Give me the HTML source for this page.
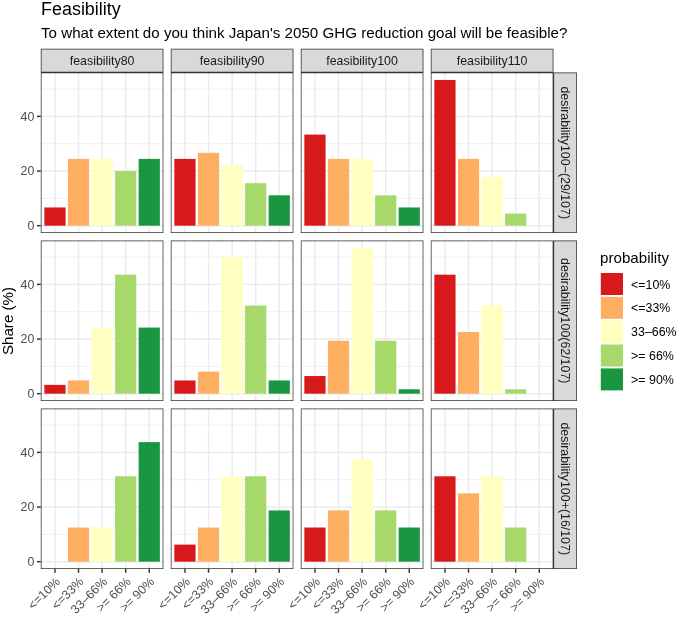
<!DOCTYPE html><html><head><meta charset="utf-8"><style>html,body{margin:0;padding:0;background:#fff;}svg{display:block;will-change:transform;}text{font-family:"Liberation Sans",sans-serif;}</style></head><body>
<svg width="685" height="619" viewBox="0 0 685 619">
<rect x="0" y="0" width="685" height="619" fill="#fff"/>
<text x="41" y="15.2" font-size="17.95" fill="#000">Feasibility</text>
<text x="41" y="37.8" font-size="15.15" fill="#000">To what extent do you think Japan&#39;s 2050 GHG reduction goal will be feasible?</text>
<line x1="40.8" x2="163.4" y1="198.36" y2="198.36" stroke="#ebebeb" stroke-width="0.74"/>
<line x1="40.8" x2="163.4" y1="143.71" y2="143.71" stroke="#ebebeb" stroke-width="0.74"/>
<line x1="40.8" x2="163.4" y1="89.06" y2="89.06" stroke="#ebebeb" stroke-width="0.74"/>
<line x1="40.8" x2="163.4" y1="225.68" y2="225.68" stroke="#ebebeb" stroke-width="1.48"/>
<line x1="40.8" x2="163.4" y1="171.03" y2="171.03" stroke="#ebebeb" stroke-width="1.48"/>
<line x1="40.8" x2="163.4" y1="116.38" y2="116.38" stroke="#ebebeb" stroke-width="1.48"/>
<line x1="54.95" x2="54.95" y1="72.56" y2="232.9" stroke="#ebebeb" stroke-width="1.48"/>
<line x1="78.52" x2="78.52" y1="72.56" y2="232.9" stroke="#ebebeb" stroke-width="1.48"/>
<line x1="102.1" x2="102.1" y1="72.56" y2="232.9" stroke="#ebebeb" stroke-width="1.48"/>
<line x1="125.68" x2="125.68" y1="72.56" y2="232.9" stroke="#ebebeb" stroke-width="1.48"/>
<line x1="149.25" x2="149.25" y1="72.56" y2="232.9" stroke="#ebebeb" stroke-width="1.48"/>
<rect x="44.34" y="207.46" width="21.22" height="18.22" fill="#d7191c"/>
<rect x="67.91" y="158.89" width="21.22" height="66.79" fill="#fdae61"/>
<rect x="91.49" y="158.89" width="21.22" height="66.79" fill="#ffffbf"/>
<rect x="115.07" y="171.03" width="21.22" height="54.65" fill="#a6d96a"/>
<rect x="138.64" y="158.89" width="21.22" height="66.79" fill="#1a9641"/>
<line x1="170.8" x2="293.4" y1="198.36" y2="198.36" stroke="#ebebeb" stroke-width="0.74"/>
<line x1="170.8" x2="293.4" y1="143.71" y2="143.71" stroke="#ebebeb" stroke-width="0.74"/>
<line x1="170.8" x2="293.4" y1="89.06" y2="89.06" stroke="#ebebeb" stroke-width="0.74"/>
<line x1="170.8" x2="293.4" y1="225.68" y2="225.68" stroke="#ebebeb" stroke-width="1.48"/>
<line x1="170.8" x2="293.4" y1="171.03" y2="171.03" stroke="#ebebeb" stroke-width="1.48"/>
<line x1="170.8" x2="293.4" y1="116.38" y2="116.38" stroke="#ebebeb" stroke-width="1.48"/>
<line x1="184.95" x2="184.95" y1="72.56" y2="232.9" stroke="#ebebeb" stroke-width="1.48"/>
<line x1="208.52" x2="208.52" y1="72.56" y2="232.9" stroke="#ebebeb" stroke-width="1.48"/>
<line x1="232.1" x2="232.1" y1="72.56" y2="232.9" stroke="#ebebeb" stroke-width="1.48"/>
<line x1="255.68" x2="255.68" y1="72.56" y2="232.9" stroke="#ebebeb" stroke-width="1.48"/>
<line x1="279.25" x2="279.25" y1="72.56" y2="232.9" stroke="#ebebeb" stroke-width="1.48"/>
<rect x="174.34" y="158.89" width="21.22" height="66.79" fill="#d7191c"/>
<rect x="197.91" y="152.81" width="21.22" height="72.87" fill="#fdae61"/>
<rect x="221.49" y="164.96" width="21.22" height="60.72" fill="#ffffbf"/>
<rect x="245.07" y="183.17" width="21.22" height="42.51" fill="#a6d96a"/>
<rect x="268.64" y="195.32" width="21.22" height="30.36" fill="#1a9641"/>
<line x1="300.8" x2="423.4" y1="198.36" y2="198.36" stroke="#ebebeb" stroke-width="0.74"/>
<line x1="300.8" x2="423.4" y1="143.71" y2="143.71" stroke="#ebebeb" stroke-width="0.74"/>
<line x1="300.8" x2="423.4" y1="89.06" y2="89.06" stroke="#ebebeb" stroke-width="0.74"/>
<line x1="300.8" x2="423.4" y1="225.68" y2="225.68" stroke="#ebebeb" stroke-width="1.48"/>
<line x1="300.8" x2="423.4" y1="171.03" y2="171.03" stroke="#ebebeb" stroke-width="1.48"/>
<line x1="300.8" x2="423.4" y1="116.38" y2="116.38" stroke="#ebebeb" stroke-width="1.48"/>
<line x1="314.95" x2="314.95" y1="72.56" y2="232.9" stroke="#ebebeb" stroke-width="1.48"/>
<line x1="338.52" x2="338.52" y1="72.56" y2="232.9" stroke="#ebebeb" stroke-width="1.48"/>
<line x1="362.1" x2="362.1" y1="72.56" y2="232.9" stroke="#ebebeb" stroke-width="1.48"/>
<line x1="385.68" x2="385.68" y1="72.56" y2="232.9" stroke="#ebebeb" stroke-width="1.48"/>
<line x1="409.25" x2="409.25" y1="72.56" y2="232.9" stroke="#ebebeb" stroke-width="1.48"/>
<rect x="304.34" y="134.6" width="21.22" height="91.08" fill="#d7191c"/>
<rect x="327.91" y="158.89" width="21.22" height="66.79" fill="#fdae61"/>
<rect x="351.49" y="158.89" width="21.22" height="66.79" fill="#ffffbf"/>
<rect x="375.07" y="195.32" width="21.22" height="30.36" fill="#a6d96a"/>
<rect x="398.64" y="207.46" width="21.22" height="18.22" fill="#1a9641"/>
<line x1="430.8" x2="553.4" y1="198.36" y2="198.36" stroke="#ebebeb" stroke-width="0.74"/>
<line x1="430.8" x2="553.4" y1="143.71" y2="143.71" stroke="#ebebeb" stroke-width="0.74"/>
<line x1="430.8" x2="553.4" y1="89.06" y2="89.06" stroke="#ebebeb" stroke-width="0.74"/>
<line x1="430.8" x2="553.4" y1="225.68" y2="225.68" stroke="#ebebeb" stroke-width="1.48"/>
<line x1="430.8" x2="553.4" y1="171.03" y2="171.03" stroke="#ebebeb" stroke-width="1.48"/>
<line x1="430.8" x2="553.4" y1="116.38" y2="116.38" stroke="#ebebeb" stroke-width="1.48"/>
<line x1="444.95" x2="444.95" y1="72.56" y2="232.9" stroke="#ebebeb" stroke-width="1.48"/>
<line x1="468.52" x2="468.52" y1="72.56" y2="232.9" stroke="#ebebeb" stroke-width="1.48"/>
<line x1="492.1" x2="492.1" y1="72.56" y2="232.9" stroke="#ebebeb" stroke-width="1.48"/>
<line x1="515.68" x2="515.68" y1="72.56" y2="232.9" stroke="#ebebeb" stroke-width="1.48"/>
<line x1="539.25" x2="539.25" y1="72.56" y2="232.9" stroke="#ebebeb" stroke-width="1.48"/>
<rect x="434.34" y="79.95" width="21.22" height="145.73" fill="#d7191c"/>
<rect x="457.91" y="158.89" width="21.22" height="66.79" fill="#fdae61"/>
<rect x="481.49" y="177.1" width="21.22" height="48.58" fill="#ffffbf"/>
<rect x="505.07" y="213.54" width="21.22" height="12.14" fill="#a6d96a"/>
<line x1="40.8" x2="163.4" y1="366.36" y2="366.36" stroke="#ebebeb" stroke-width="0.74"/>
<line x1="40.8" x2="163.4" y1="311.71" y2="311.71" stroke="#ebebeb" stroke-width="0.74"/>
<line x1="40.8" x2="163.4" y1="257.06" y2="257.06" stroke="#ebebeb" stroke-width="0.74"/>
<line x1="40.8" x2="163.4" y1="393.68" y2="393.68" stroke="#ebebeb" stroke-width="1.48"/>
<line x1="40.8" x2="163.4" y1="339.03" y2="339.03" stroke="#ebebeb" stroke-width="1.48"/>
<line x1="40.8" x2="163.4" y1="284.38" y2="284.38" stroke="#ebebeb" stroke-width="1.48"/>
<line x1="54.95" x2="54.95" y1="240.56" y2="400.9" stroke="#ebebeb" stroke-width="1.48"/>
<line x1="78.52" x2="78.52" y1="240.56" y2="400.9" stroke="#ebebeb" stroke-width="1.48"/>
<line x1="102.1" x2="102.1" y1="240.56" y2="400.9" stroke="#ebebeb" stroke-width="1.48"/>
<line x1="125.68" x2="125.68" y1="240.56" y2="400.9" stroke="#ebebeb" stroke-width="1.48"/>
<line x1="149.25" x2="149.25" y1="240.56" y2="400.9" stroke="#ebebeb" stroke-width="1.48"/>
<rect x="44.34" y="384.87" width="21.22" height="8.81" fill="#d7191c"/>
<rect x="67.91" y="380.46" width="21.22" height="13.22" fill="#fdae61"/>
<rect x="91.49" y="327.57" width="21.22" height="66.11" fill="#ffffbf"/>
<rect x="115.07" y="274.68" width="21.22" height="119" fill="#a6d96a"/>
<rect x="138.64" y="327.57" width="21.22" height="66.11" fill="#1a9641"/>
<line x1="170.8" x2="293.4" y1="366.36" y2="366.36" stroke="#ebebeb" stroke-width="0.74"/>
<line x1="170.8" x2="293.4" y1="311.71" y2="311.71" stroke="#ebebeb" stroke-width="0.74"/>
<line x1="170.8" x2="293.4" y1="257.06" y2="257.06" stroke="#ebebeb" stroke-width="0.74"/>
<line x1="170.8" x2="293.4" y1="393.68" y2="393.68" stroke="#ebebeb" stroke-width="1.48"/>
<line x1="170.8" x2="293.4" y1="339.03" y2="339.03" stroke="#ebebeb" stroke-width="1.48"/>
<line x1="170.8" x2="293.4" y1="284.38" y2="284.38" stroke="#ebebeb" stroke-width="1.48"/>
<line x1="184.95" x2="184.95" y1="240.56" y2="400.9" stroke="#ebebeb" stroke-width="1.48"/>
<line x1="208.52" x2="208.52" y1="240.56" y2="400.9" stroke="#ebebeb" stroke-width="1.48"/>
<line x1="232.1" x2="232.1" y1="240.56" y2="400.9" stroke="#ebebeb" stroke-width="1.48"/>
<line x1="255.68" x2="255.68" y1="240.56" y2="400.9" stroke="#ebebeb" stroke-width="1.48"/>
<line x1="279.25" x2="279.25" y1="240.56" y2="400.9" stroke="#ebebeb" stroke-width="1.48"/>
<rect x="174.34" y="380.46" width="21.22" height="13.22" fill="#d7191c"/>
<rect x="197.91" y="371.64" width="21.22" height="22.04" fill="#fdae61"/>
<rect x="221.49" y="257.06" width="21.22" height="136.62" fill="#ffffbf"/>
<rect x="245.07" y="305.53" width="21.22" height="88.15" fill="#a6d96a"/>
<rect x="268.64" y="380.46" width="21.22" height="13.22" fill="#1a9641"/>
<line x1="300.8" x2="423.4" y1="366.36" y2="366.36" stroke="#ebebeb" stroke-width="0.74"/>
<line x1="300.8" x2="423.4" y1="311.71" y2="311.71" stroke="#ebebeb" stroke-width="0.74"/>
<line x1="300.8" x2="423.4" y1="257.06" y2="257.06" stroke="#ebebeb" stroke-width="0.74"/>
<line x1="300.8" x2="423.4" y1="393.68" y2="393.68" stroke="#ebebeb" stroke-width="1.48"/>
<line x1="300.8" x2="423.4" y1="339.03" y2="339.03" stroke="#ebebeb" stroke-width="1.48"/>
<line x1="300.8" x2="423.4" y1="284.38" y2="284.38" stroke="#ebebeb" stroke-width="1.48"/>
<line x1="314.95" x2="314.95" y1="240.56" y2="400.9" stroke="#ebebeb" stroke-width="1.48"/>
<line x1="338.52" x2="338.52" y1="240.56" y2="400.9" stroke="#ebebeb" stroke-width="1.48"/>
<line x1="362.1" x2="362.1" y1="240.56" y2="400.9" stroke="#ebebeb" stroke-width="1.48"/>
<line x1="385.68" x2="385.68" y1="240.56" y2="400.9" stroke="#ebebeb" stroke-width="1.48"/>
<line x1="409.25" x2="409.25" y1="240.56" y2="400.9" stroke="#ebebeb" stroke-width="1.48"/>
<rect x="304.34" y="376.05" width="21.22" height="17.63" fill="#d7191c"/>
<rect x="327.91" y="340.79" width="21.22" height="52.89" fill="#fdae61"/>
<rect x="351.49" y="248.24" width="21.22" height="145.44" fill="#ffffbf"/>
<rect x="375.07" y="340.79" width="21.22" height="52.89" fill="#a6d96a"/>
<rect x="398.64" y="389.27" width="21.22" height="4.41" fill="#1a9641"/>
<line x1="430.8" x2="553.4" y1="366.36" y2="366.36" stroke="#ebebeb" stroke-width="0.74"/>
<line x1="430.8" x2="553.4" y1="311.71" y2="311.71" stroke="#ebebeb" stroke-width="0.74"/>
<line x1="430.8" x2="553.4" y1="257.06" y2="257.06" stroke="#ebebeb" stroke-width="0.74"/>
<line x1="430.8" x2="553.4" y1="393.68" y2="393.68" stroke="#ebebeb" stroke-width="1.48"/>
<line x1="430.8" x2="553.4" y1="339.03" y2="339.03" stroke="#ebebeb" stroke-width="1.48"/>
<line x1="430.8" x2="553.4" y1="284.38" y2="284.38" stroke="#ebebeb" stroke-width="1.48"/>
<line x1="444.95" x2="444.95" y1="240.56" y2="400.9" stroke="#ebebeb" stroke-width="1.48"/>
<line x1="468.52" x2="468.52" y1="240.56" y2="400.9" stroke="#ebebeb" stroke-width="1.48"/>
<line x1="492.1" x2="492.1" y1="240.56" y2="400.9" stroke="#ebebeb" stroke-width="1.48"/>
<line x1="515.68" x2="515.68" y1="240.56" y2="400.9" stroke="#ebebeb" stroke-width="1.48"/>
<line x1="539.25" x2="539.25" y1="240.56" y2="400.9" stroke="#ebebeb" stroke-width="1.48"/>
<rect x="434.34" y="274.68" width="21.22" height="119" fill="#d7191c"/>
<rect x="457.91" y="331.98" width="21.22" height="61.7" fill="#fdae61"/>
<rect x="481.49" y="305.53" width="21.22" height="88.15" fill="#ffffbf"/>
<rect x="505.07" y="389.27" width="21.22" height="4.41" fill="#a6d96a"/>
<line x1="40.8" x2="163.4" y1="534.36" y2="534.36" stroke="#ebebeb" stroke-width="0.74"/>
<line x1="40.8" x2="163.4" y1="479.71" y2="479.71" stroke="#ebebeb" stroke-width="0.74"/>
<line x1="40.8" x2="163.4" y1="425.06" y2="425.06" stroke="#ebebeb" stroke-width="0.74"/>
<line x1="40.8" x2="163.4" y1="561.68" y2="561.68" stroke="#ebebeb" stroke-width="1.48"/>
<line x1="40.8" x2="163.4" y1="507.03" y2="507.03" stroke="#ebebeb" stroke-width="1.48"/>
<line x1="40.8" x2="163.4" y1="452.38" y2="452.38" stroke="#ebebeb" stroke-width="1.48"/>
<line x1="54.95" x2="54.95" y1="408.56" y2="568.9" stroke="#ebebeb" stroke-width="1.48"/>
<line x1="78.52" x2="78.52" y1="408.56" y2="568.9" stroke="#ebebeb" stroke-width="1.48"/>
<line x1="102.1" x2="102.1" y1="408.56" y2="568.9" stroke="#ebebeb" stroke-width="1.48"/>
<line x1="125.68" x2="125.68" y1="408.56" y2="568.9" stroke="#ebebeb" stroke-width="1.48"/>
<line x1="149.25" x2="149.25" y1="408.56" y2="568.9" stroke="#ebebeb" stroke-width="1.48"/>
<rect x="67.91" y="527.52" width="21.22" height="34.16" fill="#fdae61"/>
<rect x="91.49" y="527.52" width="21.22" height="34.16" fill="#ffffbf"/>
<rect x="115.07" y="476.29" width="21.22" height="85.39" fill="#a6d96a"/>
<rect x="138.64" y="442.13" width="21.22" height="119.55" fill="#1a9641"/>
<line x1="170.8" x2="293.4" y1="534.36" y2="534.36" stroke="#ebebeb" stroke-width="0.74"/>
<line x1="170.8" x2="293.4" y1="479.71" y2="479.71" stroke="#ebebeb" stroke-width="0.74"/>
<line x1="170.8" x2="293.4" y1="425.06" y2="425.06" stroke="#ebebeb" stroke-width="0.74"/>
<line x1="170.8" x2="293.4" y1="561.68" y2="561.68" stroke="#ebebeb" stroke-width="1.48"/>
<line x1="170.8" x2="293.4" y1="507.03" y2="507.03" stroke="#ebebeb" stroke-width="1.48"/>
<line x1="170.8" x2="293.4" y1="452.38" y2="452.38" stroke="#ebebeb" stroke-width="1.48"/>
<line x1="184.95" x2="184.95" y1="408.56" y2="568.9" stroke="#ebebeb" stroke-width="1.48"/>
<line x1="208.52" x2="208.52" y1="408.56" y2="568.9" stroke="#ebebeb" stroke-width="1.48"/>
<line x1="232.1" x2="232.1" y1="408.56" y2="568.9" stroke="#ebebeb" stroke-width="1.48"/>
<line x1="255.68" x2="255.68" y1="408.56" y2="568.9" stroke="#ebebeb" stroke-width="1.48"/>
<line x1="279.25" x2="279.25" y1="408.56" y2="568.9" stroke="#ebebeb" stroke-width="1.48"/>
<rect x="174.34" y="544.6" width="21.22" height="17.08" fill="#d7191c"/>
<rect x="197.91" y="527.52" width="21.22" height="34.16" fill="#fdae61"/>
<rect x="221.49" y="476.29" width="21.22" height="85.39" fill="#ffffbf"/>
<rect x="245.07" y="476.29" width="21.22" height="85.39" fill="#a6d96a"/>
<rect x="268.64" y="510.45" width="21.22" height="51.23" fill="#1a9641"/>
<line x1="300.8" x2="423.4" y1="534.36" y2="534.36" stroke="#ebebeb" stroke-width="0.74"/>
<line x1="300.8" x2="423.4" y1="479.71" y2="479.71" stroke="#ebebeb" stroke-width="0.74"/>
<line x1="300.8" x2="423.4" y1="425.06" y2="425.06" stroke="#ebebeb" stroke-width="0.74"/>
<line x1="300.8" x2="423.4" y1="561.68" y2="561.68" stroke="#ebebeb" stroke-width="1.48"/>
<line x1="300.8" x2="423.4" y1="507.03" y2="507.03" stroke="#ebebeb" stroke-width="1.48"/>
<line x1="300.8" x2="423.4" y1="452.38" y2="452.38" stroke="#ebebeb" stroke-width="1.48"/>
<line x1="314.95" x2="314.95" y1="408.56" y2="568.9" stroke="#ebebeb" stroke-width="1.48"/>
<line x1="338.52" x2="338.52" y1="408.56" y2="568.9" stroke="#ebebeb" stroke-width="1.48"/>
<line x1="362.1" x2="362.1" y1="408.56" y2="568.9" stroke="#ebebeb" stroke-width="1.48"/>
<line x1="385.68" x2="385.68" y1="408.56" y2="568.9" stroke="#ebebeb" stroke-width="1.48"/>
<line x1="409.25" x2="409.25" y1="408.56" y2="568.9" stroke="#ebebeb" stroke-width="1.48"/>
<rect x="304.34" y="527.52" width="21.22" height="34.16" fill="#d7191c"/>
<rect x="327.91" y="510.45" width="21.22" height="51.23" fill="#fdae61"/>
<rect x="351.49" y="459.21" width="21.22" height="102.47" fill="#ffffbf"/>
<rect x="375.07" y="510.45" width="21.22" height="51.23" fill="#a6d96a"/>
<rect x="398.64" y="527.52" width="21.22" height="34.16" fill="#1a9641"/>
<line x1="430.8" x2="553.4" y1="534.36" y2="534.36" stroke="#ebebeb" stroke-width="0.74"/>
<line x1="430.8" x2="553.4" y1="479.71" y2="479.71" stroke="#ebebeb" stroke-width="0.74"/>
<line x1="430.8" x2="553.4" y1="425.06" y2="425.06" stroke="#ebebeb" stroke-width="0.74"/>
<line x1="430.8" x2="553.4" y1="561.68" y2="561.68" stroke="#ebebeb" stroke-width="1.48"/>
<line x1="430.8" x2="553.4" y1="507.03" y2="507.03" stroke="#ebebeb" stroke-width="1.48"/>
<line x1="430.8" x2="553.4" y1="452.38" y2="452.38" stroke="#ebebeb" stroke-width="1.48"/>
<line x1="444.95" x2="444.95" y1="408.56" y2="568.9" stroke="#ebebeb" stroke-width="1.48"/>
<line x1="468.52" x2="468.52" y1="408.56" y2="568.9" stroke="#ebebeb" stroke-width="1.48"/>
<line x1="492.1" x2="492.1" y1="408.56" y2="568.9" stroke="#ebebeb" stroke-width="1.48"/>
<line x1="515.68" x2="515.68" y1="408.56" y2="568.9" stroke="#ebebeb" stroke-width="1.48"/>
<line x1="539.25" x2="539.25" y1="408.56" y2="568.9" stroke="#ebebeb" stroke-width="1.48"/>
<rect x="434.34" y="476.29" width="21.22" height="85.39" fill="#d7191c"/>
<rect x="457.91" y="493.37" width="21.22" height="68.31" fill="#fdae61"/>
<rect x="481.49" y="476.29" width="21.22" height="85.39" fill="#ffffbf"/>
<rect x="505.07" y="527.52" width="21.22" height="34.16" fill="#a6d96a"/>
<rect x="40.8" y="48.85" width="122.6" height="23.71" fill="#d9d9d9"/>
<text x="102.1" y="65" font-size="12.4" fill="#1a1a1a" text-anchor="middle">feasibility80</text>
<rect x="170.8" y="48.85" width="122.6" height="23.71" fill="#d9d9d9"/>
<text x="232.1" y="65" font-size="12.4" fill="#1a1a1a" text-anchor="middle">feasibility90</text>
<rect x="300.8" y="48.85" width="122.6" height="23.71" fill="#d9d9d9"/>
<text x="362.1" y="65" font-size="12.4" fill="#1a1a1a" text-anchor="middle">feasibility100</text>
<rect x="430.8" y="48.85" width="122.6" height="23.71" fill="#d9d9d9"/>
<text x="492.1" y="65" font-size="12.4" fill="#1a1a1a" text-anchor="middle">feasibility110</text>
<rect x="553.4" y="72.56" width="23.5" height="160.34" fill="#d9d9d9"/>
<text transform="translate(560.75,152.73) rotate(90)" font-size="12.4" fill="#1a1a1a" text-anchor="middle">desirability100−(29/107)</text>
<rect x="553.4" y="240.56" width="23.5" height="160.34" fill="#d9d9d9"/>
<text transform="translate(560.75,320.73) rotate(90)" font-size="12.4" fill="#1a1a1a" text-anchor="middle">desirability100(62/107)</text>
<rect x="553.4" y="408.56" width="23.5" height="160.34" fill="#d9d9d9"/>
<text transform="translate(560.75,488.73) rotate(90)" font-size="12.4" fill="#1a1a1a" text-anchor="middle">desirability100+(16/107)</text>
<path d="M40.8 72.56h0.74v160.34h-0.74zM162.66 72.56h0.74v160.34h-0.74zM40.8 232.16h122.6v0.74h-122.6zM40.8 72.56h122.6v0.74h-122.6zM170.8 72.56h0.74v160.34h-0.74zM292.66 72.56h0.74v160.34h-0.74zM170.8 232.16h122.6v0.74h-122.6zM170.8 72.56h122.6v0.74h-122.6zM300.8 72.56h0.74v160.34h-0.74zM422.66 72.56h0.74v160.34h-0.74zM300.8 232.16h122.6v0.74h-122.6zM300.8 72.56h122.6v0.74h-122.6zM430.8 72.56h0.74v160.34h-0.74zM552.66 72.56h0.74v160.34h-0.74zM430.8 232.16h122.6v0.74h-122.6zM430.8 72.56h122.6v0.74h-122.6zM553.4 72.56h23.5v0.74h-23.5zM553.4 232.16h23.5v0.74h-23.5zM576.16 72.56h0.74v160.34h-0.74zM553.4 72.56h0.74v160.34h-0.74zM40.8 240.56h0.74v160.34h-0.74zM162.66 240.56h0.74v160.34h-0.74zM40.8 400.16h122.6v0.74h-122.6zM40.8 240.56h122.6v0.74h-122.6zM170.8 240.56h0.74v160.34h-0.74zM292.66 240.56h0.74v160.34h-0.74zM170.8 400.16h122.6v0.74h-122.6zM170.8 240.56h122.6v0.74h-122.6zM300.8 240.56h0.74v160.34h-0.74zM422.66 240.56h0.74v160.34h-0.74zM300.8 400.16h122.6v0.74h-122.6zM300.8 240.56h122.6v0.74h-122.6zM430.8 240.56h0.74v160.34h-0.74zM552.66 240.56h0.74v160.34h-0.74zM430.8 400.16h122.6v0.74h-122.6zM430.8 240.56h122.6v0.74h-122.6zM553.4 240.56h23.5v0.74h-23.5zM553.4 400.16h23.5v0.74h-23.5zM576.16 240.56h0.74v160.34h-0.74zM553.4 240.56h0.74v160.34h-0.74zM40.8 408.56h0.74v160.34h-0.74zM162.66 408.56h0.74v160.34h-0.74zM40.8 568.16h122.6v0.74h-122.6zM40.8 408.56h122.6v0.74h-122.6zM170.8 408.56h0.74v160.34h-0.74zM292.66 408.56h0.74v160.34h-0.74zM170.8 568.16h122.6v0.74h-122.6zM170.8 408.56h122.6v0.74h-122.6zM300.8 408.56h0.74v160.34h-0.74zM422.66 408.56h0.74v160.34h-0.74zM300.8 568.16h122.6v0.74h-122.6zM300.8 408.56h122.6v0.74h-122.6zM430.8 408.56h0.74v160.34h-0.74zM552.66 408.56h0.74v160.34h-0.74zM430.8 568.16h122.6v0.74h-122.6zM430.8 408.56h122.6v0.74h-122.6zM553.4 408.56h23.5v0.74h-23.5zM553.4 568.16h23.5v0.74h-23.5zM576.16 408.56h0.74v160.34h-0.74zM553.4 408.56h0.74v160.34h-0.74zM40.8 48.85h122.6v0.74h-122.6zM40.8 48.85h0.74v23.71h-0.74zM162.66 48.85h0.74v23.71h-0.74zM40.8 71.82h122.6v0.74h-122.6zM170.8 48.85h122.6v0.74h-122.6zM170.8 48.85h0.74v23.71h-0.74zM292.66 48.85h0.74v23.71h-0.74zM170.8 71.82h122.6v0.74h-122.6zM300.8 48.85h122.6v0.74h-122.6zM300.8 48.85h0.74v23.71h-0.74zM422.66 48.85h0.74v23.71h-0.74zM300.8 71.82h122.6v0.74h-122.6zM430.8 48.85h122.6v0.74h-122.6zM430.8 48.85h0.74v23.71h-0.74zM552.66 48.85h0.74v23.71h-0.74zM430.8 71.82h122.6v0.74h-122.6z" fill="#333" fill-rule="nonzero"/>
<line x1="36.98" x2="40.8" y1="225.68" y2="225.68" stroke="#333" stroke-width="1.48"/>
<text x="34.42" y="230.08" font-size="12.4" fill="#4d4d4d" text-anchor="end">0</text>
<line x1="36.98" x2="40.8" y1="171.03" y2="171.03" stroke="#333" stroke-width="1.48"/>
<text x="34.42" y="175.43" font-size="12.4" fill="#4d4d4d" text-anchor="end">20</text>
<line x1="36.98" x2="40.8" y1="116.38" y2="116.38" stroke="#333" stroke-width="1.48"/>
<text x="34.42" y="120.78" font-size="12.4" fill="#4d4d4d" text-anchor="end">40</text>
<line x1="36.98" x2="40.8" y1="393.68" y2="393.68" stroke="#333" stroke-width="1.48"/>
<text x="34.42" y="398.08" font-size="12.4" fill="#4d4d4d" text-anchor="end">0</text>
<line x1="36.98" x2="40.8" y1="339.03" y2="339.03" stroke="#333" stroke-width="1.48"/>
<text x="34.42" y="343.43" font-size="12.4" fill="#4d4d4d" text-anchor="end">20</text>
<line x1="36.98" x2="40.8" y1="284.38" y2="284.38" stroke="#333" stroke-width="1.48"/>
<text x="34.42" y="288.78" font-size="12.4" fill="#4d4d4d" text-anchor="end">40</text>
<line x1="36.98" x2="40.8" y1="561.68" y2="561.68" stroke="#333" stroke-width="1.48"/>
<text x="34.42" y="566.08" font-size="12.4" fill="#4d4d4d" text-anchor="end">0</text>
<line x1="36.98" x2="40.8" y1="507.03" y2="507.03" stroke="#333" stroke-width="1.48"/>
<text x="34.42" y="511.43" font-size="12.4" fill="#4d4d4d" text-anchor="end">20</text>
<line x1="36.98" x2="40.8" y1="452.38" y2="452.38" stroke="#333" stroke-width="1.48"/>
<text x="34.42" y="456.78" font-size="12.4" fill="#4d4d4d" text-anchor="end">40</text>
<line x1="54.95" x2="54.95" y1="568.9" y2="572.72" stroke="#333" stroke-width="1.48"/>
<text transform="translate(54.25,575.78) rotate(-45)" y="9.3" font-size="12.4" fill="#4d4d4d" text-anchor="end">&lt;=10%</text>
<line x1="78.52" x2="78.52" y1="568.9" y2="572.72" stroke="#333" stroke-width="1.48"/>
<text transform="translate(77.82,575.78) rotate(-45)" y="9.3" font-size="12.4" fill="#4d4d4d" text-anchor="end">&lt;=33%</text>
<line x1="102.1" x2="102.1" y1="568.9" y2="572.72" stroke="#333" stroke-width="1.48"/>
<text transform="translate(101.4,575.78) rotate(-45)" y="9.3" font-size="12.4" fill="#4d4d4d" text-anchor="end">33–66%</text>
<line x1="125.68" x2="125.68" y1="568.9" y2="572.72" stroke="#333" stroke-width="1.48"/>
<text transform="translate(124.98,575.78) rotate(-45)" y="9.3" font-size="12.4" fill="#4d4d4d" text-anchor="end">&gt;= 66%</text>
<line x1="149.25" x2="149.25" y1="568.9" y2="572.72" stroke="#333" stroke-width="1.48"/>
<text transform="translate(148.55,575.78) rotate(-45)" y="9.3" font-size="12.4" fill="#4d4d4d" text-anchor="end">&gt;= 90%</text>
<line x1="184.95" x2="184.95" y1="568.9" y2="572.72" stroke="#333" stroke-width="1.48"/>
<text transform="translate(184.25,575.78) rotate(-45)" y="9.3" font-size="12.4" fill="#4d4d4d" text-anchor="end">&lt;=10%</text>
<line x1="208.52" x2="208.52" y1="568.9" y2="572.72" stroke="#333" stroke-width="1.48"/>
<text transform="translate(207.82,575.78) rotate(-45)" y="9.3" font-size="12.4" fill="#4d4d4d" text-anchor="end">&lt;=33%</text>
<line x1="232.1" x2="232.1" y1="568.9" y2="572.72" stroke="#333" stroke-width="1.48"/>
<text transform="translate(231.4,575.78) rotate(-45)" y="9.3" font-size="12.4" fill="#4d4d4d" text-anchor="end">33–66%</text>
<line x1="255.68" x2="255.68" y1="568.9" y2="572.72" stroke="#333" stroke-width="1.48"/>
<text transform="translate(254.98,575.78) rotate(-45)" y="9.3" font-size="12.4" fill="#4d4d4d" text-anchor="end">&gt;= 66%</text>
<line x1="279.25" x2="279.25" y1="568.9" y2="572.72" stroke="#333" stroke-width="1.48"/>
<text transform="translate(278.55,575.78) rotate(-45)" y="9.3" font-size="12.4" fill="#4d4d4d" text-anchor="end">&gt;= 90%</text>
<line x1="314.95" x2="314.95" y1="568.9" y2="572.72" stroke="#333" stroke-width="1.48"/>
<text transform="translate(314.25,575.78) rotate(-45)" y="9.3" font-size="12.4" fill="#4d4d4d" text-anchor="end">&lt;=10%</text>
<line x1="338.52" x2="338.52" y1="568.9" y2="572.72" stroke="#333" stroke-width="1.48"/>
<text transform="translate(337.82,575.78) rotate(-45)" y="9.3" font-size="12.4" fill="#4d4d4d" text-anchor="end">&lt;=33%</text>
<line x1="362.1" x2="362.1" y1="568.9" y2="572.72" stroke="#333" stroke-width="1.48"/>
<text transform="translate(361.4,575.78) rotate(-45)" y="9.3" font-size="12.4" fill="#4d4d4d" text-anchor="end">33–66%</text>
<line x1="385.68" x2="385.68" y1="568.9" y2="572.72" stroke="#333" stroke-width="1.48"/>
<text transform="translate(384.98,575.78) rotate(-45)" y="9.3" font-size="12.4" fill="#4d4d4d" text-anchor="end">&gt;= 66%</text>
<line x1="409.25" x2="409.25" y1="568.9" y2="572.72" stroke="#333" stroke-width="1.48"/>
<text transform="translate(408.55,575.78) rotate(-45)" y="9.3" font-size="12.4" fill="#4d4d4d" text-anchor="end">&gt;= 90%</text>
<line x1="444.95" x2="444.95" y1="568.9" y2="572.72" stroke="#333" stroke-width="1.48"/>
<text transform="translate(444.25,575.78) rotate(-45)" y="9.3" font-size="12.4" fill="#4d4d4d" text-anchor="end">&lt;=10%</text>
<line x1="468.52" x2="468.52" y1="568.9" y2="572.72" stroke="#333" stroke-width="1.48"/>
<text transform="translate(467.82,575.78) rotate(-45)" y="9.3" font-size="12.4" fill="#4d4d4d" text-anchor="end">&lt;=33%</text>
<line x1="492.1" x2="492.1" y1="568.9" y2="572.72" stroke="#333" stroke-width="1.48"/>
<text transform="translate(491.4,575.78) rotate(-45)" y="9.3" font-size="12.4" fill="#4d4d4d" text-anchor="end">33–66%</text>
<line x1="515.68" x2="515.68" y1="568.9" y2="572.72" stroke="#333" stroke-width="1.48"/>
<text transform="translate(514.98,575.78) rotate(-45)" y="9.3" font-size="12.4" fill="#4d4d4d" text-anchor="end">&gt;= 66%</text>
<line x1="539.25" x2="539.25" y1="568.9" y2="572.72" stroke="#333" stroke-width="1.48"/>
<text transform="translate(538.55,575.78) rotate(-45)" y="9.3" font-size="12.4" fill="#4d4d4d" text-anchor="end">&gt;= 90%</text>
<text transform="translate(13.3,321) rotate(-90)" font-size="15.15" fill="#000" text-anchor="middle">Share (%)</text>
<text x="600.0" y="263.2" font-size="15.15" fill="#000">probability</text>
<rect x="600.8" y="273" width="22.2" height="22.0" fill="#d7191c"/>
<text x="631.1" y="288.5" font-size="12.4" fill="#000">&lt;=10%</text>
<rect x="600.8" y="296.85" width="22.2" height="22.0" fill="#fdae61"/>
<text x="631.1" y="312.35" font-size="12.4" fill="#000">&lt;=33%</text>
<rect x="600.8" y="320.7" width="22.2" height="22.0" fill="#ffffbf"/>
<text x="631.1" y="336.2" font-size="12.4" fill="#000">33–66%</text>
<rect x="600.8" y="344.55" width="22.2" height="22.0" fill="#a6d96a"/>
<text x="631.1" y="360.05" font-size="12.4" fill="#000">&gt;= 66%</text>
<rect x="600.8" y="368.4" width="22.2" height="22.0" fill="#1a9641"/>
<text x="631.1" y="383.9" font-size="12.4" fill="#000">&gt;= 90%</text>
</svg></body></html>
